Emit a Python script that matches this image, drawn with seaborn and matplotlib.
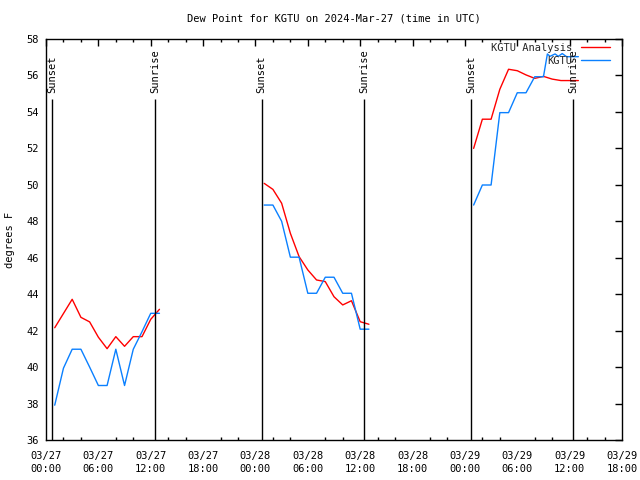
import matplotlib
matplotlib.use("Agg")
import matplotlib.pyplot as plt
import matplotlib.dates as mdates
from matplotlib.ticker import MultipleLocator
from matplotlib.lines import Line2D
import pandas as pd
import seaborn as sns

sns.set_theme(style="white")
plt.rcParams["font.family"] = ["DejaVu Sans Mono", "DejaVu Sans"]

START = pd.Timestamp("2024-03-27 00:00")
TITLE = "Dew Point for KGTU on 2024-Mar-27 (time in UTC)"
YLABEL = "degrees F"
SERIES = ["KGTU Analysis", "KGTU"]
COLORS = {"KGTU Analysis": "#ff0000", "KGTU": "#0a80ff"}

# hours after START
an_hours_1 = list(range(1, 14))
an_vals_1 = [42.16, 42.94, 43.72, 42.73, 42.48, 41.64, 41.01, 41.67, 41.14, 41.67, 41.67, 42.62, 43.17]
an_hours_2 = list(range(25, 38))
an_vals_2 = [50.08, 49.75, 48.99, 47.34, 46.06, 45.33, 44.78, 44.69, 43.86, 43.41, 43.64, 42.49, 42.35]
an_hours_3 = list(range(49, 62))
an_vals_3 = [52.0, 53.6, 53.6, 55.24, 56.34, 56.26, 56.03, 55.84, 55.95, 55.8, 55.72, 55.72, 55.72]

ob_hours_1 = list(range(1, 14))
ob_vals_1 = [37.91, 39.94, 40.98, 40.98, 40.0, 38.99, 38.99, 40.98, 38.99, 40.98, 41.94, 42.95, 42.95]
ob_hours_2 = list(range(25, 38))
ob_vals_2 = [48.89, 48.89, 48.0, 46.03, 46.03, 44.05, 44.05, 44.93, 44.93, 44.05, 44.05, 42.08, 42.08]
ob_hours_3 = [49, 50, 51, 52, 53, 54, 55, 56, 57, 57.45, 57.75, 58.33, 58.7, 59.15, 59.65, 61]
ob_vals_3 = [48.89, 49.99, 49.99, 53.96, 53.96, 55.05, 55.05, 55.93, 55.93, 57.18, 57.05, 57.18, 57.05, 57.2, 57.03, 57.03]

event_hours = [0.72, 12.5, 24.72, 36.47, 48.7, 60.42]
event_labels = ["Sunset", "Sunrise", "Sunset", "Sunrise", "Sunset", "Sunrise"]

rows = []
for seg, (hh, vv) in enumerate([(an_hours_1, an_vals_1), (an_hours_2, an_vals_2), (an_hours_3, an_vals_3)]):
    for h, v in zip(hh, vv):
        rows.append({"time": START + pd.Timedelta(hours=h), "value": v, "series": "KGTU Analysis", "seg": f"a{seg}"})
for seg, (hh, vv) in enumerate([(ob_hours_1, ob_vals_1), (ob_hours_2, ob_vals_2), (ob_hours_3, ob_vals_3)]):
    for h, v in zip(hh, vv):
        rows.append({"time": START + pd.Timedelta(hours=h), "value": v, "series": "KGTU", "seg": f"o{seg}"})
df = pd.DataFrame(rows)

FS = 7.5
fig = plt.figure(figsize=(6.4, 4.8), dpi=100)
ax = fig.add_axes([46 / 640, 40 / 480, 576 / 640, 401 / 480])

sns.lineplot(data=df, x="time", y="value", hue="series", units="seg", estimator=None,
             hue_order=SERIES, palette=COLORS, linewidth=1.0, legend=False, ax=ax)

ax.set_xlim(START, START + pd.Timedelta(hours=66))
ax.set_ylim(36, 58)

event_times = [START + pd.Timedelta(hours=h) for h in event_hours]
ax.vlines(event_times, 36, 54.7, color="black", linewidth=1.0)
for t, lab in zip(event_times, event_labels):
    ax.text(t, 55.05, lab, rotation=90, ha="center", va="bottom", fontsize=FS, color="black")

ax.xaxis.set_major_locator(mdates.HourLocator(byhour=[0, 6, 12, 18]))
ax.xaxis.set_minor_locator(mdates.HourLocator(byhour=list(range(0, 24, 2))))
ax.xaxis.set_major_formatter(mdates.DateFormatter("%m/%d\n%H:%M"))
ax.yaxis.set_major_locator(MultipleLocator(2))

ax.tick_params(which="major", direction="in", length=5, width=1, color="black",
               top=True, right=True, labelsize=FS, labelcolor="black")
ax.tick_params(which="minor", direction="in", length=2.5, width=1, color="black",
               top=True, right=False, bottom=True, left=False)
ax.tick_params(axis="x", which="major", pad=8)
ax.tick_params(axis="y", which="major", pad=5)
for lab in ax.get_xticklabels():
    lab.set_linespacing(1.4)

for s in ax.spines.values():
    s.set_color("black")
    s.set_linewidth(1.0)
ax.grid(False)

ax.set_xlabel("")
ax.set_ylabel(YLABEL, fontsize=FS, color="black")
ax.yaxis.set_label_coords(-0.054, 0.5)
ax.set_title(TITLE, fontsize=FS, color="black", pad=12.5)

handles = [Line2D([], [], color=COLORS[s], linewidth=1.0) for s in SERIES]
ax.legend(handles, SERIES, loc="upper right", bbox_to_anchor=(0.979, 0.99), frameon=False,
          markerfirst=False, handlelength=2.8, handletextpad=0.8, labelspacing=0.25,
          borderaxespad=0, borderpad=0, fontsize=FS)

fig.savefig("out.png", dpi=100)
